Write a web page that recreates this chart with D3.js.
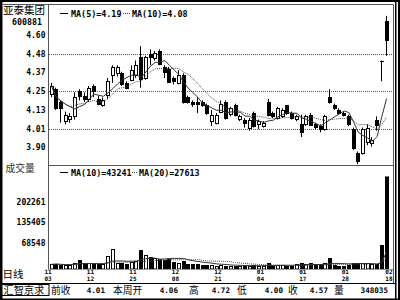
<!DOCTYPE html>
<html>
<head>
<meta charset="utf-8">
<script src="https://cdn.jsdelivr.net/npm/d3@7"></script>
<style>
body{margin:0;background:#fff;}
svg{display:block;}
text{font-family:"DejaVu Sans Mono",monospace;font-weight:bold;fill:#000;}
text.cjk{font-family:"Noto Sans CJK SC",sans-serif;font-weight:normal;}
</style>
</head>
<body>
<div id="vis"></div>
<script>
// ---- data ----
var stockName = "亚泰集团", stockCode = "600881", brand = "汇智京求";
var opens  = [4.23,4.26,4.18,4.06,4.07,4.09,4.25,4.22,4.20,4.28,4.20,4.16,4.22,4.35,4.36,4.36,4.30,4.32,4.35,4.46,
              4.33,4.48,4.46,4.50,4.40,4.39,4.33,4.30,4.35,4.21,4.18,4.18,4.18,4.16,4.06,4.05,4.12,4.18,4.10,4.16,
              4.07,4.07,4.02,4.11,4.04,4.03,4.18,4.11,4.08,4.09,4.16,4.11,4.07,4.04,4.04,4.10,4.04,4.03,4.01,4.21,
              4.16,4.13,4.11,4.09,4.01,3.86,3.86,3.93,3.92,4.07,4.44,4.69];
var highs  = [4.30,4.27,4.19,4.12,4.11,4.24,4.26,4.24,4.28,4.29,4.22,4.21,4.33,4.41,4.41,4.37,4.31,4.41,4.44,4.53,
              4.47,4.51,4.50,4.51,4.41,4.40,4.34,4.38,4.36,4.22,4.19,4.21,4.19,4.17,4.13,4.11,4.19,4.19,4.15,4.17,
              4.10,4.08,4.08,4.12,4.07,4.06,4.20,4.12,4.15,4.14,4.16,4.12,4.10,4.10,4.10,4.11,4.05,4.04,4.10,4.26,
              4.17,4.14,4.12,4.10,4.02,3.87,4.02,4.04,3.96,4.09,4.44,4.72];
var lows   = [4.21,4.13,4.05,4.04,4.05,4.07,4.19,4.18,4.18,4.21,4.16,4.15,4.20,4.30,4.34,4.28,4.26,4.31,4.33,4.27,
              4.32,4.41,4.44,4.41,4.33,4.30,4.29,4.29,4.17,4.17,4.15,4.11,4.15,4.10,4.03,4.04,4.11,4.07,4.09,4.09,
              4.06,4.02,4.00,4.02,4.01,4.02,4.09,4.08,4.07,4.08,4.10,4.07,4.06,3.96,4.03,4.03,4.01,3.99,4.00,4.17,
              4.13,4.10,4.09,4.03,3.88,3.79,3.85,3.91,3.90,4.00,4.31,4.47];
var closes = [4.28,4.14,4.14,4.10,4.09,4.21,4.22,4.20,4.27,4.25,4.17,4.19,4.31,4.40,4.40,4.29,4.27,4.38,4.41,4.32,
              4.46,4.46,4.49,4.42,4.37,4.31,4.31,4.35,4.18,4.18,4.17,4.17,4.16,4.11,4.10,4.10,4.17,4.08,4.14,4.10,
              4.09,4.05,4.07,4.03,4.06,4.05,4.10,4.09,4.14,4.13,4.11,4.08,4.09,3.99,4.09,4.04,4.02,4.01,4.09,4.18,
              4.14,4.11,4.10,4.04,3.89,3.81,4.01,4.02,3.94,4.04,4.44,4.57];
var volumes = [14000,16000,12000,11000,13000,20000,28000,17000,19000,15000,14000,16000,40000,64000,18000,20000,16000,22000,24000,60000,
               44000,38000,34000,30000,28000,33000,22000,18000,25000,15000,14000,16000,12000,13000,11000,9000,12000,10000,9000,8000,
               10000,9000,8000,12000,9000,10000,19000,10000,12000,11000,9000,10000,15000,18000,14000,17000,16000,15000,18000,34000,
               12000,10000,9000,11000,19000,20000,18000,17000,16000,15000,76000,348035];

var priceTicks = [3.90, 4.01, 4.13, 4.25, 4.37, 4.48, 4.60];
var priceGrid = [4.01, 4.25, 4.48];
var volTicks = [68548, 135405, 202261];
var dateIdx = [0, 9, 18, 27, 36, 45, 54, 63, 71];
var dateMon = ["11","11","11","12","12","01","01","01","02"];
var dateDay = ["03","12","25","08","21","04","17","28","18"];
var priceLegend = ["MA(5)=4.19", "MA(10)=4.08"];
var volLegend = ["MA(10)=43241", "MA(20)=27613"];
var statusNames = ["前收", "本周开", "高", "低", "收", "量"];
var statusValues = ["4.01", "4.06", "4.72", "4.00", "4.57", "348035"];

// ---- layout ----
var W = 400, H = 300,
    plotL = 48, plotR = 393, plotT = 4.5, sepY = 165, volTop = 176.5, volBase = 269, statusY = 283;

var svg = d3.select("#vis").append("svg").attr("width", W).attr("height", H);
svg.append("rect").attr("width", W).attr("height", H).attr("fill", "#fff");

var n = closes.length;
var x = d3.scaleLinear().domain([0, n - 1]).range([51.5, 386.6]);
var y = d3.scaleLinear().domain([3.90, 4.60]).range([146.7, 35]);
var yv = d3.scaleLinear().domain([0, 202261]).range([268.7, 206.2]);

function movingAvg(arr, k) {
    return arr.map(function(d, i) {
        return d3.mean(arr.slice(Math.max(0, i - k + 1), i + 1));
    });
}
var ma5 = movingAvg(closes, 5), ma10 = movingAvg(closes, 10);
var vma10 = movingAvg(volumes, 10), vma20 = movingAvg(volumes, 20);

var defs = svg.append("defs");
defs.append("clipPath").attr("id", "clipP").append("rect")
    .attr("x", plotL + 1).attr("y", plotT + 1).attr("width", plotR - plotL - 1).attr("height", sepY - plotT - 1);
defs.append("clipPath").attr("id", "clipV").append("rect")
    .attr("x", plotL + 1).attr("y", volTop).attr("width", plotR - plotL - 1).attr("height", volBase - volTop);

var cx = function(i) { return Math.round(x(i)); };
var up = function(i) { return closes[i] > opens[i]; };

// price panel
var gP = svg.append("g").attr("clip-path", "url(#clipP)");

gP.selectAll("line.grid").data(priceGrid).enter().append("line").attr("class", "grid")
    .attr("x1", plotL + 1).attr("x2", plotR)
    .attr("y1", function(d) { return Math.round(y(d)) + 0.5; })
    .attr("y2", function(d) { return Math.round(y(d)) + 0.5; })
    .attr("stroke", "#555").attr("stroke-dasharray", "1,1");

gP.selectAll("line.wick").data(d3.range(n)).enter().append("line").attr("class", "wick")
    .attr("x1", function(i) { return cx(i) - 0.5; })
    .attr("x2", function(i) { return cx(i) - 0.5; })
    .attr("y1", function(i) { return y(highs[i]); })
    .attr("y2", function(i) { return y(lows[i]); })
    .attr("stroke", "#000").attr("stroke-width", 1);

gP.selectAll("rect.body").data(d3.range(n)).enter().append("rect").attr("class", "body")
    .attr("x", function(i) { return cx(i) - 1.5; })
    .attr("width", 3)
    .attr("y", function(i) { return Math.round(y(Math.max(opens[i], closes[i]))) + 0.5; })
    .attr("height", function(i) { return Math.max(0.01, Math.round(Math.abs(y(opens[i]) - y(closes[i])))); })
    .attr("fill", function(i) { return up(i) ? "#fff" : "#000"; })
    .attr("stroke", "#000").attr("stroke-width", 1);

var lineP = d3.line().x(function(d, i) { return x(i); }).y(function(d) { return y(d); });
gP.append("path").datum(ma10).attr("d", lineP).attr("fill", "none")
    .attr("stroke", "#444").attr("stroke-width", 1).attr("stroke-dasharray", "1,1");
gP.append("path").datum(ma5).attr("d", lineP).attr("fill", "none")
    .attr("stroke", "#333").attr("stroke-width", 1);

// volume panel
var gV = svg.append("g").attr("clip-path", "url(#clipV)");
gV.selectAll("rect.vol").data(d3.range(n)).enter().append("rect").attr("class", "vol")
    .attr("x", function(i) { return cx(i) - 1.5; })
    .attr("width", 3)
    .attr("y", function(i) { return Math.round(yv(volumes[i])) + 0.5; })
    .attr("height", function(i) { return Math.max(0.01, volBase - Math.round(yv(volumes[i])) - 0.5); })
    .attr("fill", function(i) { return up(i) ? "#fff" : "#000"; })
    .attr("stroke", "#000").attr("stroke-width", 1);

var lineV = d3.line().x(function(d, i) { return x(i); }).y(function(d) { return yv(d); });
gV.append("path").datum(vma20).attr("d", lineV).attr("fill", "none")
    .attr("stroke", "#444").attr("stroke-width", 1).attr("stroke-dasharray", "1,1");
gV.append("path").datum(vma10).attr("d", lineV).attr("fill", "none")
    .attr("stroke", "#333").attr("stroke-width", 1);

// legends
function legend(labels, cyy, dotFrom, dotTo, secondX) {
    var g = svg.append("g");
    g.append("line").attr("x1", 60).attr("x2", 68).attr("y1", cyy).attr("y2", cyy).attr("stroke", "#000");
    g.append("text").attr("x", 71).attr("y", cyy + 3).style("font-size", "8.4px").text(labels[0]);
    g.append("line").attr("x1", dotFrom).attr("x2", dotTo).attr("y1", cyy).attr("y2", cyy)
        .attr("stroke", "#444").attr("stroke-dasharray", "1,1");
    g.append("text").attr("x", secondX).attr("y", cyy + 3).style("font-size", "8.4px").text(labels[1]);
}
legend(priceLegend, 13.5, 123, 131, 132);
legend(volLegend, 172.5, 132, 138, 139);

// axis labels
svg.selectAll("text.pt").data(priceTicks).enter().append("text").attr("class", "pt")
    .attr("x", 45.5).attr("y", function(d) { return y(d) + 3; })
    .attr("text-anchor", "end").style("font-size", "8px")
    .text(function(d) { return d3.format(".2f")(d); });

svg.selectAll("text.vt").data(volTicks).enter().append("text").attr("class", "vt")
    .attr("x", 45.5).attr("y", function(d) { return yv(d) - 1.5; })
    .attr("text-anchor", "end").style("font-size", "8px")
    .text(function(d) { return d; });

// date labels
var dateX = function(k) {
    return k === dateIdx.length - 1 ? plotR - 0.5 : x(dateIdx[k]) - 3.5;
};
var dateAnchor = function(k) { return k === dateIdx.length - 1 ? "end" : "middle"; };
svg.selectAll("text.dm").data(dateMon).enter().append("text").attr("class", "dm")
    .attr("x", function(d, k) { return dateX(k); }).attr("y", 274.3)
    .attr("text-anchor", function(d, k) { return dateAnchor(k); })
    .style("font-size", "6px").text(function(d) { return d; });
svg.selectAll("text.dd").data(dateDay).enter().append("text").attr("class", "dd")
    .attr("x", function(d, k) { return dateX(k); }).attr("y", 280.6)
    .attr("text-anchor", function(d, k) { return dateAnchor(k); })
    .style("font-size", "6px").text(function(d) { return d; });

// left column texts
svg.append("text").attr("class", "cjk").attr("x", 3).attr("y", 13.8).style("font-size", "10.5px").text(stockName);
svg.append("text").attr("x", 42).attr("y", 25).attr("text-anchor", "end").style("font-size", "8.3px").text(stockCode);
svg.append("text").attr("class", "cjk").attr("x", 5.5).attr("y", 172.3).style("font-size", "9.8px")
    .style("fill", "#333").text("成交量");
svg.append("text").attr("class", "cjk").attr("x", 2.5).attr("y", 278).style("font-size", "10.5px").text("日线");

// frame
svg.append("line").attr("x1", 3).attr("x2", plotR).attr("y1", plotT).attr("y2", plotT).attr("stroke", "#555");
svg.append("line").attr("x1", plotL + 0.5).attr("x2", plotL + 0.5).attr("y1", plotT).attr("y2", volBase).attr("stroke", "#555");
svg.append("line").attr("x1", plotR + 0.5).attr("x2", plotR + 0.5).attr("y1", plotT).attr("y2", statusY).attr("stroke", "#555");
svg.append("line").attr("x1", plotL).attr("x2", plotR).attr("y1", sepY + 0.5).attr("y2", sepY + 0.5).attr("stroke", "#555");
svg.append("line").attr("x1", plotL).attr("x2", plotR).attr("y1", volBase + 0.5).attr("y2", volBase + 0.5).attr("stroke", "#999");
svg.append("line").attr("x1", 0).attr("x2", 395).attr("y1", statusY + 0.5).attr("y2", statusY + 0.5).attr("stroke", "#000");
svg.append("rect").attr("x", 0).attr("y", 0).attr("width", 2.5).attr("height", H).attr("fill", "#000");
svg.append("rect").attr("x", 0).attr("y", 0).attr("width", W).attr("height", 2).attr("fill", "#000");
svg.append("rect").attr("x", 395).attr("y", 0).attr("width", 1.5).attr("height", H).attr("fill", "#000");
svg.append("rect").attr("x", 398).attr("y", 0).attr("width", 2).attr("height", H).attr("fill", "#000");
svg.append("rect").attr("x", 0).attr("y", 298.5).attr("width", W).attr("height", 1.5).attr("fill", "#000");

// status bar
svg.append("rect").attr("x", 1.5).attr("y", 284.5).attr("width", 47.5).attr("height", 11)
    .attr("fill", "none").attr("stroke", "#000");
svg.append("text").attr("class", "cjk").attr("x", 3.5).attr("y", 294).style("font-size", "10.2px").text(brand);
var nameX = [51, 113, 189, 237, 288, 334];
var valEnd = [105, 178, 230, 283, 328, 388];
svg.selectAll("text.sn").data(statusNames).enter().append("text").attr("class", "cjk sn")
    .attr("x", function(d, k) { return nameX[k]; }).attr("y", 293.5)
    .style("font-size", "9.8px").text(function(d) { return d; });
svg.selectAll("text.sv").data(statusValues).enter().append("text").attr("class", "sv")
    .attr("x", function(d, k) { return valEnd[k]; }).attr("y", 293)
    .attr("text-anchor", "end").style("font-size", "7.6px").text(function(d) { return d; });
</script>
</body>
</html>
